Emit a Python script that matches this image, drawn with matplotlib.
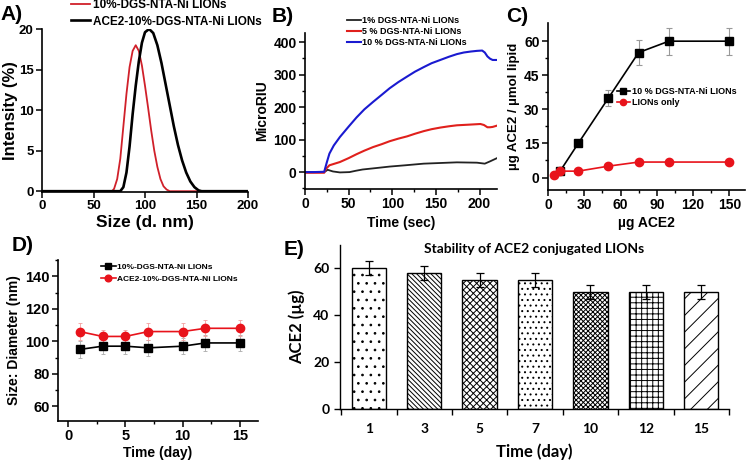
import matplotlib.pyplot as plt

# ---- data ----
# A) size distribution
size_red = [0, 60, 68, 70, 73, 76, 79, 82, 85, 88, 91, 94, 97, 100, 103, 106, 109, 112, 115, 118, 121, 124, 140, 200]
int_red = [0, 0, 0, 0.3, 1.5, 4, 8, 12, 15.3, 17.3, 18, 17.3, 15.5, 13, 10.3, 7.5, 5, 3, 1.5, 0.6, 0.2, 0, 0, 0]
size_blk = [0, 60, 76, 79, 82, 85, 88, 91, 94, 97, 100, 104, 108, 112, 116, 120, 124, 128, 132, 136, 140, 144, 148, 152, 155, 200]
int_blk = [0, 0, 0, 0.5, 2.3, 5.5, 9.5, 13, 16, 18.3, 19.6, 20, 19.5, 18, 15.8, 13.2, 10.6, 8, 5.7, 3.8, 2.3, 1.2, 0.5, 0.1, 0, 0]

# B) SPR sensorgram
t_blue = [0, 10, 22, 25, 28, 33, 40, 50, 59, 68, 78, 88, 97, 107, 117, 126, 136, 145, 155, 165, 174, 182, 190, 197, 203, 206, 209, 212, 215, 220]
riu_blue = [0, 0, 1, 30, 57, 82, 108, 140, 168, 193, 216, 238, 258, 277, 294, 309, 323, 335, 345, 355, 363, 368, 371, 373, 374, 368, 356, 349, 345, 345]
t_red = [0, 10, 22, 24, 28, 34, 40, 50, 59, 68, 78, 88, 97, 107, 117, 126, 136, 145, 155, 165, 174, 188, 201, 205, 209, 212, 215, 220]
riu_red = [-2, -2, -2, 10, 21, 26, 31, 43, 55, 66, 77, 86, 95, 103, 110, 118, 126, 132, 137, 141, 144, 146, 148, 145, 138, 138, 139, 143]
t_blk = [0, 10, 22, 26, 32, 40, 51, 58, 66, 80, 97, 115, 136, 155, 174, 197, 206, 212, 220]
riu_blk = [0, 0, 0, 7, 2, -1, 0, 4, 8, 12, 17, 21, 26, 28, 30, 29, 26, 33, 43]

# C) loading
ace_x_blk = [10, 25, 50, 75, 100, 150]
ace_y_blk = [2.8, 15, 35, 55, 60, 60]
ace_e_blk = [0, 0, 3.5, 5.5, 6, 6]
ace_x_red = [5, 10, 25, 50, 75, 100, 150]
ace_y_red = [1, 2.8, 2.8, 5, 6.8, 6.8, 6.8]

# D) size stability
days = [1, 3, 5, 7, 10, 12, 15]
diam_blk = [95, 97, 97, 96, 97, 99, 99]
diam_blk_e = [5, 5, 5, 5, 5, 5, 5]
diam_red = [106, 103, 103, 106, 106, 108, 108]
diam_red_e = [5, 4, 4, 5, 5, 5, 5]

# E) ACE2 stability
day_labels = ['1', '3', '5', '7', '10', '12', '15']
ace2 = [60, 58, 55, 55, 50, 50, 50]
ace2_err = [3, 3, 3, 3, 3, 3, 3]
hatches = ['..', '\\\\\\\\\\\\\\', 'xxxxx', '...', 'xxxxxxx', '+++', '//']

plt.rcParams['font.family'] = ['Liberation Sans', 'DejaVu Sans']
plt.rcParams['font.weight'] = 'bold'
plt.rcParams['axes.labelweight'] = 'bold'
plt.rcParams['hatch.linewidth'] = 0.7
plt.rcParams['hatch.color'] = '#333333'

fig = plt.figure(figsize=(7.5, 4.63), dpi=100)
W, H = 750, 463


def add_ax(l, t, r, b):
    return fig.add_axes([l / W, 1 - b / H, (r - l) / W, (b - t) / H])


def style(ax, fs=10):
    for s in ['top', 'right']:
        ax.spines[s].set_visible(False)
    for s in ['left', 'bottom']:
        ax.spines[s].set_linewidth(1.2)
    ax.tick_params(which='major', direction='out', length=4, width=1.1, labelsize=fs, pad=2)
    ax.tick_params(which='minor', direction='out', length=2, width=1.0)
    for lab in ax.get_xticklabels() + ax.get_yticklabels():
        lab.set_fontweight('bold')


# ---- A ----
axA = add_ax(42, 29, 248, 192)
axA.plot(size_red, int_red, color='#d0202a', lw=1.3, label='10%-DGS-NTA-Ni LIONs')
axA.plot(size_blk, int_blk, color='black', lw=1.9, label='ACE2-10%-DGS-NTA-Ni LIONs')
axA.set_xlim(0, 200)
axA.set_ylim(-0.1, 20)
axA.set_xticks([0, 50, 100, 150, 200])
axA.set_yticks([0, 5, 10, 15, 20])
axA.set_xlabel('Size (d. nm)', fontsize=12.5, labelpad=2)
axA.set_ylabel('Intensity (%)', fontsize=12, labelpad=1)
style(axA, 9.5)
axA.legend(loc='upper left', bbox_to_anchor=(0.12, 1.21), frameon=False, fontsize=8.5,
           handlelength=1.6, handletextpad=0.2, labelspacing=0.35, borderaxespad=0)
fig.text(0.0, 0.99, 'A)', fontsize=15, fontweight='bold', va='top')

# ---- B ----
axB = add_ax(305, 33, 497, 189)
axB.plot(t_blk, riu_blk, color='#222222', lw=1.3, label='1% DGS-NTA-Ni LIONs')
axB.plot(t_red, riu_red, color='#e0201c', lw=1.5, label='5 % DGS-NTA-Ni LIONs')
axB.plot(t_blue, riu_blue, color='#1a1ad0', lw=1.5, label='10 % DGS-NTA-Ni LIONs')
axB.set_xlim(0, 220)
axB.set_ylim(-52, 428)
axB.set_xticks([0, 50, 100, 150, 200])
axB.set_xticks([25, 75, 125, 175], minor=True)
axB.set_yticks([0, 100, 200, 300, 400])
axB.set_yticks([-50, 50, 150, 250, 350], minor=True)
axB.set_xlabel('Time (sec)', fontsize=10, labelpad=3)
axB.set_ylabel('MicroRIU', fontsize=10, labelpad=3)
style(axB, 10)
axB.legend(loc='upper left', bbox_to_anchor=(0.2, 1.13), frameon=False, fontsize=6.5,
           handlelength=1.5, handletextpad=0.2, labelspacing=0.2, borderaxespad=0)
fig.text(272 / W, 1 - 7 / H, 'B)', fontsize=15, fontweight='bold', va='top')

# ---- C ----
axC = add_ax(548, 23, 745, 190)
axC.errorbar(ace_x_blk, ace_y_blk, yerr=ace_e_blk, fmt='none', ecolor='#999999', elinewidth=0.8,
             capsize=2, capthick=0.8)
axC.plot(ace_x_blk, ace_y_blk, color='black', lw=1.2, marker='s', ms=6,
         label='10 % DGS-NTA-Ni LIONs')
axC.plot(ace_x_red, ace_y_red, color='#e8131b', lw=1.2, marker='o', ms=6,
         label='LIONs only')
axC.set_xlim(0, 163)
axC.set_ylim(-5.5, 68)
axC.set_xticks([0, 30, 60, 90, 120, 150])
axC.set_xticks([15, 45, 75, 105, 135], minor=True)
axC.set_yticks([0, 15, 30, 45, 60])
axC.set_yticks([7.5, 22.5, 37.5, 52.5], minor=True)
axC.set_xlabel('µg ACE2', fontsize=10, labelpad=3)
axC.set_ylabel('µg ACE2 / µmol lipid', fontsize=9.5, labelpad=3)
style(axC, 10)
axC.legend(loc='upper left', bbox_to_anchor=(0.33, 0.64), frameon=False, fontsize=6.5,
           handlelength=1.5, handletextpad=0.2, labelspacing=0.25, borderaxespad=0,
           markerscale=0.75)
fig.text(506 / W, 1 - 7 / H, 'C)', fontsize=15, fontweight='bold', va='top')

# ---- D ----
axD = add_ax(58, 260, 258, 421)
axD.errorbar(days, diam_blk, yerr=diam_blk_e, fmt='none', ecolor='#aaaaaa', elinewidth=0.6,
             capsize=1.5, capthick=0.6, ls=':')
axD.errorbar(days, diam_red, yerr=diam_red_e, fmt='none', ecolor='#f2a0a0', elinewidth=0.6,
             capsize=1.5, capthick=0.6)
axD.plot(days, diam_blk, color='black', lw=1.2, marker='s', ms=5.5, label='10%-DGS-NTA-Ni LIONs')
axD.plot(days, diam_red, color='#e8131b', lw=1.2, marker='o', ms=6, label='ACE2-10%-DGS-NTA-Ni LIONs')
axD.set_xlim(-0.9, 16.6)
axD.set_ylim(51, 150)
axD.set_xticks([0, 5, 10, 15])
axD.set_xticks([2.5, 7.5, 12.5], minor=True)
axD.set_yticks([60, 80, 100, 120, 140])
axD.set_yticks([70, 90, 110, 130, 150], minor=True)
axD.set_xlabel('Time (day)', fontsize=10, labelpad=2)
axD.set_ylabel('Size: Diameter (nm)', fontsize=10, labelpad=3)
style(axD, 10.5)
axD.legend(loc='upper left', bbox_to_anchor=(0.2, 1.0), frameon=False, fontsize=6,
           handlelength=1.7, handletextpad=0.2, labelspacing=0.5, borderaxespad=0,
           markerscale=0.8)
fig.text(12 / W, 1 - 236 / H, 'D)', fontsize=15, fontweight='bold', va='top')

# ---- E ----
axE = add_ax(340, 245, 729, 409)
pos = list(range(len(day_labels)))
axE.bar(pos, ace2, width=0.62, color='white', edgecolor='black', linewidth=1.0, hatch=hatches,
        yerr=ace2_err, error_kw=dict(ecolor='black', elinewidth=0.9, capsize=3, capthick=0.9))
axE.set_xlim(-0.52, 6.43)
axE.set_ylim(0, 70)
axE.set_yticks([0, 20, 40, 60])
axE.set_xticks(pos)
axE.set_xticklabels(day_labels)
axE.set_xticks([p + 0.5 for p in [-1] + pos], minor=True)
for s in ['top', 'right']:
    axE.spines[s].set_visible(False)
axE.spines['left'].set_linewidth(1.0)
axE.spines['bottom'].set_linewidth(1.0)
axE.tick_params(axis='x', which='major', length=0, pad=10)
axE.tick_params(axis='x', which='minor', length=4, direction='out', width=1.0)
axE.tick_params(axis='y', which='major', length=4, direction='out', width=1.0)
for lab in axE.get_xticklabels() + axE.get_yticklabels():
    lab.set_fontfamily('Lato')
    lab.set_fontweight('bold')
    lab.set_fontsize(10)
axE.set_xlabel('Time (day)', fontsize=12, fontfamily='Lato', fontweight='bold', labelpad=6)
axE.set_ylabel('ACE2 (µg)', fontsize=12, fontfamily='Lato', fontweight='bold', labelpad=6)
axE.set_title('Stability of ACE2 conjugated LIONs', fontsize=10, fontfamily='Lato',
              fontweight='bold', y=0.95, pad=0)
fig.text(284 / W, 1 - 240 / H, 'E)', fontsize=15, fontweight='bold', va='top')

fig.savefig('out.png', dpi=100)
